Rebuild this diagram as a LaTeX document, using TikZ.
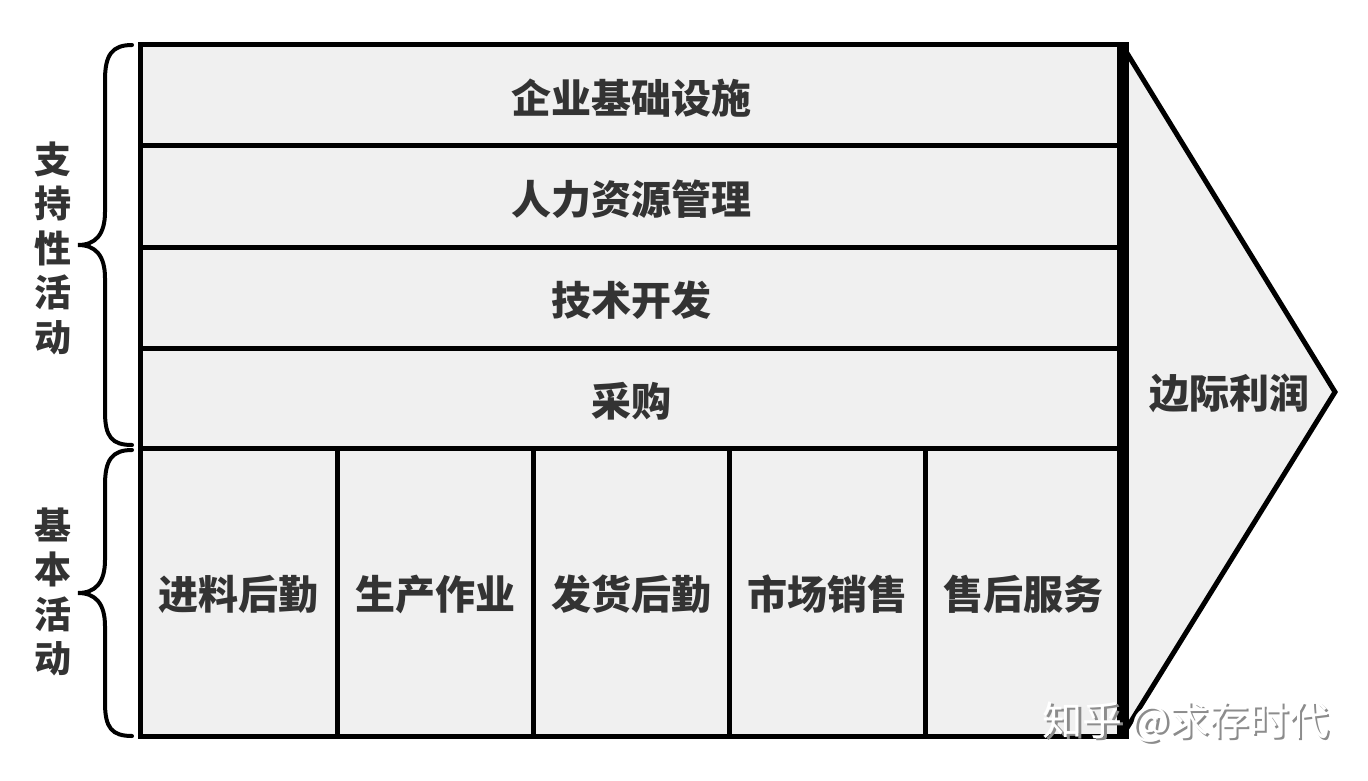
\documentclass[tikz,border=0pt]{standalone}
\usepackage{fontspec}
\newfontfamily\cjk{Noto Sans CJK SC}
\definecolor{cellfill}{HTML}{F0F0F0}
\definecolor{txt}{HTML}{333333}
\begin{document}
\begin{tikzpicture}[x=1pt,y=-1pt,
  cell/.style={draw=black,line width=5pt,fill=cellfill,anchor=north west,inner sep=0pt,outer sep=0pt},
  lbl/.style={text=txt,font=\cjk\bfseries\fontsize{40}{46}\selectfont},
  vlbl/.style={text=txt,font=\cjk\bfseries\fontsize{37}{44.5}\selectfont,align=center},
  wmk/.style={font=\cjk\fontsize{40}{46}\selectfont},
  brace/.style={line width=4pt,line cap=round}]
\useasboundingbox (0,0) rectangle (1368,781);
% arrow
\draw[line width=5pt,fill=cellfill,line join=miter] (1122,45) coordinate (at1) -- (1335,392) coordinate (tip) -- (1122,736) coordinate (ab1);
\node[lbl] (margin) at (1229,393) {边际利润};
% support rows
\draw[cell] (140,45) rectangle (1122,146);
\node[lbl] (r1) at (631,98) {企业基础设施};
\draw[cell] (140,146) rectangle (1122,247);
\node[lbl] (r2) at (631,199) {人力资源管理};
\draw[cell] (140,247) rectangle (1122,348);
\node[lbl] (r3) at (631,300) {技术开发};
\draw[cell] (140,348) rectangle (1122,448);
\node[lbl] (r4) at (631,401) {采购};
% primary cells
\draw[cell] (140,448) rectangle (337,736);
\node[lbl] (c1) at (238,594) {进料后勤};
\draw[cell] (337,448) rectangle (533,736);
\node[lbl] (c2) at (435,594) {生产作业};
\draw[cell] (533,448) rectangle (729,736);
\node[lbl] (c3) at (631,594) {发货后勤};
\draw[cell] (729,448) rectangle (925,736);
\node[lbl] (c4) at (827,594) {市场销售};
\draw[cell] (925,448) rectangle (1122,736);
\node[lbl] (c5) at (1023,594) {售后服务};
% thick right line
\draw[line width=12pt] (1123,42.5) -- (1123,738.5);
% braces
\draw[brace] (132,45) .. controls (112,45) and (105,55) .. (105,80) -- (105,212) .. controls (105,235) and (95,245) .. (78,245) .. controls (95,245) and (105,255) .. (105,278) -- (105,412) .. controls (105,437) and (112,445) .. (132,445);
\draw[brace] (132,450) .. controls (112,450) and (105,460) .. (105,485) -- (105,560) .. controls (105,583) and (95,593) .. (78,593) .. controls (95,593) and (105,603) .. (105,626) -- (105,703) .. controls (105,728) and (112,736) .. (132,736);
\node[vlbl] (sup) at (53,248) {支\\持\\性\\活\\动};
\node[vlbl] (basic) at (53,592) {基\\本\\活\\动};
% watermark
\node[text=black!45,wmk] (wm0) at (1188.5,724.5) {知乎 @求存时代};
\node[text=white,wmk] (wm) at (1186,722) {知乎 @求存时代};
\end{tikzpicture}
\end{document}
